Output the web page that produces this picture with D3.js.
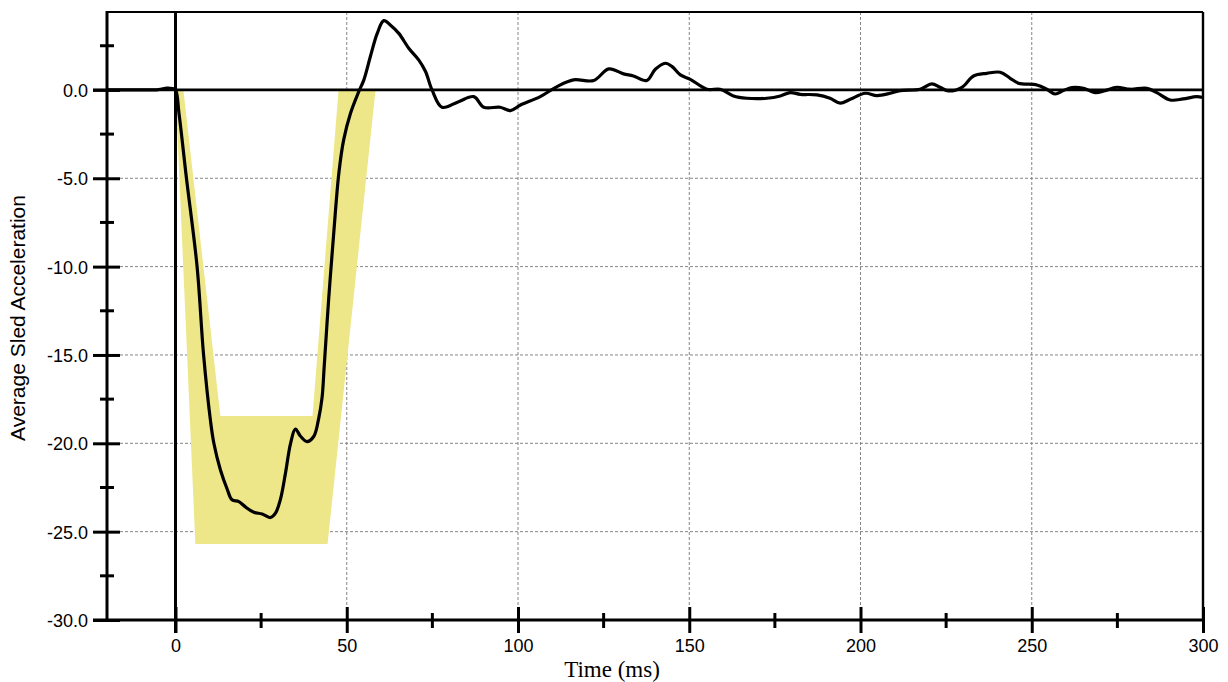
<!DOCTYPE html>
<html>
<head>
<meta charset="utf-8">
<script src="https://cdn.jsdelivr.net/npm/d3@7"></script>
<style>
  html, body { margin: 0; padding: 0; background: #fff; }
  svg { display: block; }
  .tick text { font-family: "Liberation Sans", Arial, sans-serif; font-size: 18px; fill: #000; }
</style>
</head>
<body>
<svg id="chart" width="1228" height="682"></svg>
<script>
// Averaged sled acceleration pulse (g) against time (ms)
const timeMs = [-20, -10, -5, -2.5, -1, 0, 1, 3.2, 6.3, 8.2, 10.2, 11.2, 13.1, 15.1, 16.5, 18.5, 20.4,
  22.9, 25.3, 27.7, 29.2, 30.6, 32.1, 33.6, 35.0, 36.5, 38.4, 40.4, 41.8, 42.8, 43.4, 44.7, 46.2,
  47.7, 49.1, 51.1, 53.5, 55.0, 56.9, 58.9, 60.8, 62.7, 65.2, 68.1, 71.0, 73.0, 74.9, 77.8, 82.5,
  87.1, 90, 94.8, 97.8, 100.7, 106.5, 111.4, 116.2, 122.1, 126.5, 130.8, 133.7, 137.6, 140.1, 143,
  145, 147.4, 150.3, 155.2, 159, 162.9, 166.8, 172.7, 176.6, 179.5, 182.4, 187.3, 191.1, 194.1, 197,
  201.4, 204.8, 208.7, 211.6, 217.4, 220.8, 223.2, 225.7, 229.6, 233, 236.9, 240.8, 243.7, 246.1,
  251.5, 254.4, 256.8, 259.2, 261.7, 265.1, 268.5, 271.4, 274.8, 278.7, 283.6, 286.5, 290.4, 294.2,
  298.1, 300];
const accelG = [0, 0, 0.02, 0.1, 0.08, 0, -1.3, -5, -10, -15, -18.7, -20, -21.5, -22.6, -23.2, -23.3, -23.6,
  -23.9, -24.0, -24.2, -23.95, -23.2, -21.7, -20.0, -19.2, -19.6, -19.9, -19.6, -18.6, -17.4, -15.7, -11.9, -8.1,
  -4.7, -2.83, -1.32, -0.1, 0.57, 1.89, 3.2, 3.92, 3.68, 3.2, 2.36, 1.7, 1.04, 0, -0.98, -0.68,
  -0.38, -0.98, -0.98, -1.17, -0.85, -0.38, 0.19, 0.57, 0.53, 1.19, 0.91, 0.79, 0.53, 1.17, 1.51,
  1.32, 0.85, 0.6, 0.04, 0.04, -0.34, -0.47, -0.47, -0.34, -0.15, -0.25, -0.28, -0.47, -0.75, -0.53,
  -0.19, -0.32, -0.19, -0.04, 0.04, 0.34, 0.15, -0.06, 0.15, 0.79, 0.94, 1.0, 0.66, 0.38,
  0.28, 0.04, -0.23, -0.04, 0.13, 0.09, -0.15, -0.04, 0.15, 0.04, 0.09, -0.15, -0.57, -0.51,
  -0.38, -0.43];

// Acceptance corridor: outer (lower) bound and inner (upper) bound
const corridorLowerT = [0, 5.8, 44.4, 58.4];
const corridorLowerG = [0, -25.7, -25.7, 0];
const corridorUpperT = [2.3, 13.1, 40.0, 47.6];
const corridorUpperG = [0, -18.45, -18.45, 0];

// Axis ticks and labels
const xMajorTicks = [0, 50, 100, 150, 200, 250, 300];
const xMinorTicks = [25, 75, 125, 175, 225, 275];
const yMajorTicks = [0, -5, -10, -15, -20, -25, -30];
const yMinorTicks = [2.5, -2.5, -7.5, -12.5, -17.5, -22.5, -27.5];
const xGridTicks = [50, 100, 150, 200, 250];
const yGridTicks = [-5, -10, -15, -20, -25];
const xTitle = "Time (ms)";
const yTitle = "Average Sled Acceleration";

const svg = d3.select("#chart");
const L = 107, R = 1203, T = 12, B = 620;
const x = d3.scaleLinear().domain([-20, 300]).range([L, R]);
const y = d3.scaleLinear().domain([-30, 4.41]).range([B, T]);

// dashed grid
svg.append("g").selectAll("line").data(yGridTicks).join("line")
  .attr("x1", L + 13).attr("x2", R)
  .attr("y1", d => y(d)).attr("y2", d => y(d))
  .attr("stroke", "#777").attr("stroke-width", 0.9).attr("stroke-dasharray", "3,2");
svg.append("g").selectAll("line").data(xGridTicks).join("line")
  .attr("x1", d => x(d)).attr("x2", d => x(d))
  .attr("y1", T).attr("y2", B - 13)
  .attr("stroke", "#777").attr("stroke-width", 0.9).attr("stroke-dasharray", "3,2");

// corridor band
const corridorPts = corridorLowerT.map((t, i) => [t, corridorLowerG[i]])
  .concat(corridorUpperT.map((t, i) => [t, corridorUpperG[i]]).reverse());
svg.append("path")
  .attr("d", d3.line().x(d => x(d[0])).y(d => y(d[1]))(corridorPts) + "Z")
  .attr("fill", "#ede78a").attr("stroke", "none");

// zero reference lines
svg.append("line").attr("x1", L - 14).attr("x2", R).attr("y1", y(0)).attr("y2", y(0))
  .attr("stroke", "#000").attr("stroke-width", 2.8);
svg.append("line").attr("x1", x(0)).attr("x2", x(0)).attr("y1", T).attr("y2", B + 13)
  .attr("stroke", "#000").attr("stroke-width", 3);

// acceleration trace
const pulse = timeMs.map((t, i) => [t, accelG[i]]);
svg.append("path")
  .attr("d", d3.line().x(d => x(d[0])).y(d => y(d[1])).curve(d3.curveCatmullRom.alpha(0.5))(pulse))
  .attr("fill", "none").attr("stroke", "#000").attr("stroke-width", 3.2)
  .attr("stroke-linejoin", "round");

// frame: top and right borders
svg.append("line").attr("x1", L).attr("x2", R).attr("y1", T).attr("y2", T)
  .attr("stroke", "#000").attr("stroke-width", 2);
svg.append("line").attr("x1", R).attr("x2", R).attr("y1", T).attr("y2", B)
  .attr("stroke", "#000").attr("stroke-width", 2.4);

// y axis
const yAxis = svg.append("g").attr("transform", `translate(${L},0)`)
  .call(d3.axisLeft(y).tickValues(yMajorTicks).tickFormat(d => d.toFixed(1)).tickSizeOuter(0));
yAxis.select(".domain").remove();
yAxis.selectAll(".tick line").attr("x1", -14).attr("x2", 13).attr("stroke-width", 3);
yAxis.selectAll(".tick text").attr("x", -19).attr("dy", "0.36em");
yAxis.selectAll(".minor").data(yMinorTicks).join("line").attr("class", "minor")
  .attr("x1", -7).attr("x2", 7).attr("y1", d => y(d)).attr("y2", d => y(d))
  .attr("stroke", "#000").attr("stroke-width", 3);
svg.append("line").attr("x1", L).attr("x2", L).attr("y1", T - 1).attr("y2", B + 1.5)
  .attr("stroke", "#000").attr("stroke-width", 3);

// x axis
const xAxis = svg.append("g").attr("transform", `translate(0,${B})`)
  .call(d3.axisBottom(x).tickValues(xMajorTicks).tickFormat(d => String(d)).tickSizeOuter(0));
xAxis.select(".domain").remove();
xAxis.selectAll(".tick line").attr("y1", -13).attr("y2", 13).attr("stroke-width", 3);
xAxis.selectAll(".tick text").attr("y", 32).attr("dy", "0");
xAxis.selectAll(".minor").data(xMinorTicks).join("line").attr("class", "minor")
  .attr("x1", d => x(d)).attr("x2", d => x(d)).attr("y1", -7).attr("y2", 8)
  .attr("stroke", "#000").attr("stroke-width", 3);
svg.append("line").attr("x1", L - 14).attr("x2", R + 1.5).attr("y1", B).attr("y2", B)
  .attr("stroke", "#000").attr("stroke-width", 3);

// titles
svg.append("text").attr("x", 612).attr("y", 677).attr("text-anchor", "middle")
  .attr("font-family", "'Liberation Serif', 'Times New Roman', serif").attr("font-size", 23)
  .text(xTitle);
svg.append("text").attr("transform", "translate(25,318) rotate(-90)").attr("text-anchor", "middle")
  .attr("font-family", "'Liberation Sans', Arial, sans-serif").attr("font-size", 21)
  .text(yTitle);
</script>
</body>
</html>
